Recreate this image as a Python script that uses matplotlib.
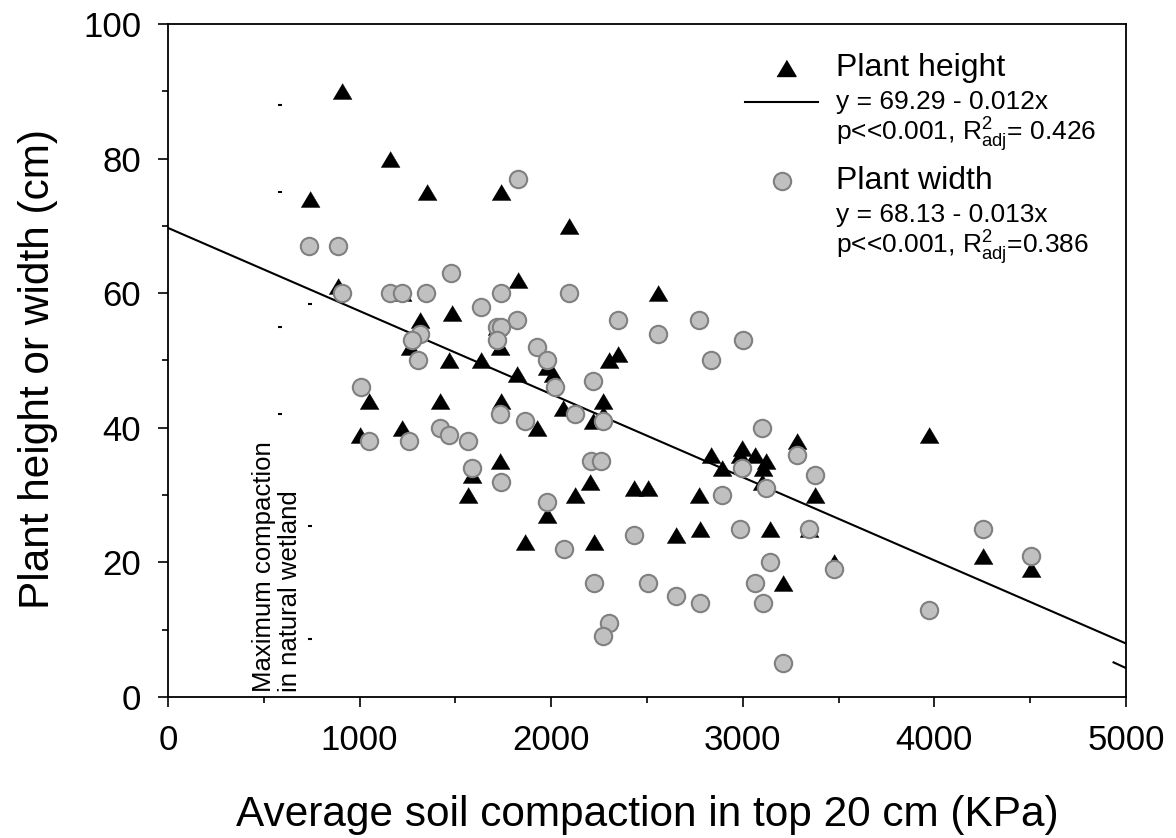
import numpy as np
import matplotlib
matplotlib.use("Agg")
import matplotlib.pyplot as plt

plt.rcParams['font.family'] = ['Liberation Sans', 'DejaVu Sans']
plt.rcParams['mathtext.fontset'] = 'custom'
plt.rcParams['mathtext.rm'] = 'Liberation Sans'
plt.rcParams['mathtext.it'] = 'Liberation Sans:italic'

# Plant height (triangles): soil compaction (KPa) and height (cm)
height_x = [740, 906, 1160, 1350, 1740, 1825, 886, 1315, 1480, 1263,
            1465, 1634, 1733, 1715, 1820, 2011, 1976, 1049, 1420, 1736,
            1002, 1221, 1927, 1733, 1585, 1566, 1978, 1862, 2093, 2556,
            2303, 2350, 2272, 2062, 2220, 2272, 2203, 2124, 2432, 2507,
            2773, 2225, 2651, 2777, 3142, 3347, 3208, 2832, 2893, 2994,
            2985, 3064, 3119, 3107, 3102, 3281, 3377, 3972, 4252, 4506,
            3476, 1221]
height_y = [74, 90, 80, 75, 75, 62, 61, 56, 57, 52,
            50, 50, 52, 55, 48, 48, 49, 44, 44, 44,
            39, 40, 40, 35, 33, 30, 27, 23, 70, 60,
            50, 51, 44, 43, 41, 42, 32, 30, 31, 31,
            30, 23, 24, 25, 25, 25, 17, 36, 34, 37,
            36, 36, 35, 34, 32, 38, 30, 39, 21, 19,
            20, 60]

# Plant width (circles)
width_x = [737, 889, 906, 1157, 1221, 1347, 1479, 1740, 1634, 1822,
           1315, 1272, 1307, 1927, 1980, 2020, 1007, 1715, 1736, 1715,
           1825, 1049, 1260, 1420, 1465, 1566, 1733, 1862, 1585, 1736,
           1978, 2093, 2350, 2556, 2773, 3003, 2834, 2220, 2124, 2272,
           2206, 2262, 3102, 2996, 3119, 3281, 3377, 2893, 2985, 3346,
           2432, 2067, 2225, 2507, 2651, 2777, 3142, 3064, 3107, 2303,
           2272, 3208, 3476, 4252, 4506, 3972]
width_y = [67, 67, 60, 60, 60, 60, 63, 60, 58, 56,
           54, 53, 50, 52, 50, 46, 46, 55, 55, 53,
           77, 38, 38, 40, 39, 38, 42, 41, 34, 32,
           29, 60, 56, 54, 56, 53, 50, 47, 42, 41,
           35, 35, 40, 34, 31, 36, 33, 30, 25, 25,
           24, 22, 17, 17, 15, 14, 20, 17, 14, 11,
           9, 5, 19, 25, 21, 13]

# regression lines as drawn (intercept, slope)
height_fit = (69.7, -0.01235)
width_fit = (69.3, -0.013)
width_fit_x = [4935, 5000]   # only a short piece of this line is visible

# marker of the natural wetland compaction (sparse dotted line)
wetland_x = 585
wetland_dots = [42, 55, 75, 88]
wetland_x2 = 740
wetland_dots2 = [8.6, 25.4, 58.4]

fig = plt.figure(figsize=(11.76, 8.38), dpi=100)
ax = fig.add_axes([168/1176, 1 - 697/838, 958/1176, 673/838])

tri = [(-1, -0.84), (1, -0.84), (0, 0.84)]

xx = np.array([0, 5000])
ax.plot(xx, height_fit[0] + height_fit[1]*xx, color='black', lw=1.5, zorder=2)
wx = np.array(width_fit_x)
ax.plot(wx, width_fit[0] + width_fit[1]*wx, color='black', lw=1.5, zorder=2)

ax.plot(height_x, height_y, ls='none', marker=tri, ms=13.7, color='black',
        mec='black', mew=0.3, zorder=3)
ax.plot(width_x, width_y, ls='none', marker='o', ms=12.5, mfc='#c0c0c0',
        mec='#808080', mew=1.5, zorder=4)

ax.plot([wetland_x]*len(wetland_dots), wetland_dots, ls='none', marker='_',
        ms=3, mew=1.5, color='black', zorder=2)
ax.plot([wetland_x2]*len(wetland_dots2), wetland_dots2, ls='none', marker='_',
        ms=3, mew=1.5, color='black', zorder=2)
ax.text(568, 0.8, 'Maximum compaction\nin natural wetland', rotation=90,
        rotation_mode='anchor', ha='left', va='center', multialignment='left',
        linespacing=1.1, fontsize=18.5)

ax.set_xlim(0, 5000)
ax.set_ylim(0, 100)
ax.set_xticks(np.arange(0, 5001, 1000))
ax.set_xticks(np.arange(500, 5000, 1000), minor=True)
ax.set_yticks(np.arange(0, 101, 20))
ax.set_yticks(np.arange(10, 100, 20), minor=True)
ax.tick_params(which='both', direction='out', width=1.2, labelsize=25,
               top=False, right=False, pad=12)
ax.tick_params(which='major', length=7.2)
ax.tick_params(which='minor', length=4.3)
for s in ax.spines.values():
    s.set_linewidth(1.3)

ax.set_xlabel('Average soil compaction in top 20 cm (KPa)', fontsize=30.5)
ax.xaxis.set_label_coords(0.5, -0.1753)
ax.xaxis.label.set_va('center')
ax.set_ylabel('Plant height or width (cm)', fontsize=30.5)
ax.yaxis.set_label_coords(-0.1358, 0.487)
ax.yaxis.label.set_va('center')

# legend block
def fx(px):
    return px / 1176

def fy(py):
    return 1 - py / 838

fig.lines.append(plt.Line2D([fx(745), fx(818)], [fy(102), fy(102)],
                            color='black', lw=1.5, transform=fig.transFigure))
ax.plot([fx(786)], [fy(68)], marker=tri, ms=13.7, color='black',
        transform=fig.transFigure, clip_on=False)
ax.plot([fx(782)], [fy(181)], marker='o', ms=12.5, mfc='#c0c0c0',
        mec='#808080', mew=1.5, transform=fig.transFigure, clip_on=False)
fig.text(fx(836), fy(68), 'Plant height', fontsize=23, va='center')
fig.text(fx(836), fy(102), 'y = 69.29 - 0.012x', fontsize=19, va='center')
fig.text(fx(836), fy(135), r'p<<0.001, R$^{2}_{\mathrm{adj}}$= 0.426',
         fontsize=19, va='center')
fig.text(fx(836), fy(181), 'Plant width', fontsize=23, va='center')
fig.text(fx(836), fy(215), 'y = 68.13 - 0.013x', fontsize=19, va='center')
fig.text(fx(836), fy(248), r'p<<0.001, R$^{2}_{\mathrm{adj}}$=0.386',
         fontsize=19, va='center')

fig.savefig('out.png', dpi=100)
